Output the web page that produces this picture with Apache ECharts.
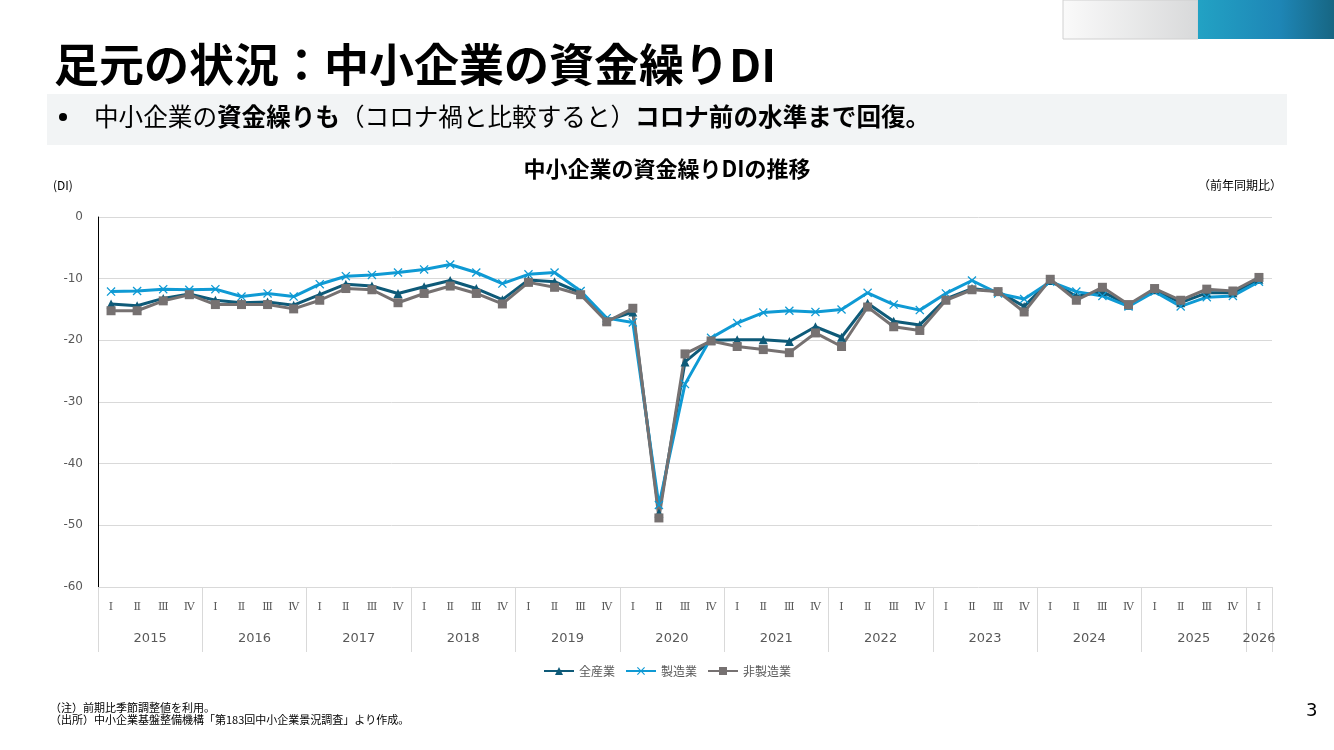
<!DOCTYPE html>
<html>
<head>
<meta charset="utf-8">
<script src="https://cdn.jsdelivr.net/npm/echarts@6/dist/echarts.min.js"></script>
<style>
  html, body { margin: 0; padding: 0; background: #fff; }
  #chart { width: 1334px; height: 750px; }
</style>
</head>
<body>
<div id="chart"></div>
<script>
// 年・四半期
var years = ['2015', '2016', '2017', '2018', '2019', '2020', '2021', '2022', '2023', '2024', '2025', '2026'];
var quarters = ['Ⅰ', 'Ⅱ', 'Ⅲ', 'Ⅳ'];

// 全産業
var zenSangyo = [
  -14.1, -14.4, -13.2, -12.5,
  -13.5, -13.9, -13.8, -14.3,
  -12.6, -10.9, -11.2, -12.4,
  -11.3, -10.3, -11.6, -13.4,
  -10.2, -10.5, -12.3, -16.8,
  -15.4, -48.0, -23.5, -20.0,
  -19.9, -19.9, -20.2, -17.8,
  -19.5, -14.0, -16.9, -17.5,
  -13.3, -11.6, -12.1, -14.5,
  -10.3, -12.9, -12.1, -14.3,
  -11.8, -13.9, -12.3, -12.3,
  -10.1
];
// 製造業
var seizo = [
  -12.1, -12.0, -11.7, -11.8,
  -11.7, -12.9, -12.4, -12.9,
  -10.9, -9.6, -9.4, -9.0,
  -8.5, -7.7, -9.0, -10.8,
  -9.3, -9.0, -12.0, -16.4,
  -17.1, -46.7, -27.1, -19.6,
  -17.2, -15.5, -15.2, -15.4,
  -15.0, -12.3, -14.2, -15.1,
  -12.4, -10.3, -12.4, -13.3,
  -10.5, -12.1, -12.8, -14.5,
  -12.1, -14.5, -13.0, -12.8,
  -10.5
];
// 非製造業
var hiSeizo = [
  -15.2, -15.2, -13.6, -12.6,
  -14.2, -14.2, -14.2, -14.9,
  -13.5, -11.6, -11.8, -13.9,
  -12.4, -11.2, -12.4, -14.1,
  -10.6, -11.4, -12.6, -17.0,
  -14.8, -48.8, -22.2, -20.1,
  -21.0, -21.5, -22.0, -18.8,
  -21.0, -14.6, -17.8, -18.4,
  -13.5, -11.8, -12.1, -15.4,
  -10.1, -13.5, -11.4, -14.2,
  -11.6, -13.5, -11.7, -12.0,
  -9.8
];

// 横軸カテゴリ (2026年はⅠ期のみ)
var cats = [];
var catYear = [];
years.forEach(function (y) {
  var n = (y === '2026') ? 1 : 4;
  for (var q = 0; q < n; q++) {
    cats.push(quarters[q]);
    catYear.push(y);
  }
});

var myChart = echarts.init(document.getElementById('chart'));

var crossPath = 'path://M0,1 L1,0 L5,4 L9,0 L10,1 L6,5 L10,9 L9,10 L5,6 L1,10 L0,9 L4,5 Z';
var jp = "'Noto Sans CJK JP', sans-serif";
var num = "'DejaVu Sans', 'Noto Sans CJK JP', sans-serif";

var option = {
  animation: false,
  textStyle: { fontFamily: jp },
  title: {
    text: '中小企業の資金繰りDIの推移',
    left: 'center',
    top: 153,
    textStyle: { fontSize: 22, fontWeight: 'bold', color: '#000', fontFamily: jp }
  },
  legend: {
    top: 660,
    left: 'center',
    itemWidth: 30,
    itemHeight: 10,
    itemGap: 10,
    textStyle: { fontSize: 12, color: '#595959', fontFamily: jp },
    data: ['全産業', '製造業', '非製造業']
  },
  grid: { left: 98, right: 62, top: 217, bottom: 163, containLabel: false },
  xAxis: [
    {
      type: 'category',
      data: cats,
      boundaryGap: true,
      axisLine: { show: false, onZero: false },
      splitLine: { show: false },
      axisTick: {
        show: true,
        length: 65,
        interval: function (index) { return index % 4 === 0; },
        lineStyle: { color: '#d9d9d9' }
      },
      axisLabel: {
        interval: 0,
        margin: 15,
        fontSize: 11,
        color: '#595959',
        fontFamily: "'DejaVu Serif', serif"
      }
    },
    {
      type: 'category',
      position: 'bottom',
      offset: 33,
      data: cats,
      boundaryGap: true,
      axisLine: { show: false, onZero: false },
      splitLine: { show: false },
      axisTick: { show: false },
      axisLabel: {
        interval: 0,
        margin: 12,
        formatter: function (v, i) {
          if (catYear[i] === '2026') return '{c|' + catYear[i] + '}';
          if (i % 4 === 1) return '{p|' + catYear[i] + '}';
          return '';
        },
        rich: {
          p: { fontSize: 13, color: '#595959', fontFamily: num, padding: [0, 0, 0, 26] },
          c: { fontSize: 13, color: '#595959', fontFamily: num }
        }
      }
    }
  ],
  yAxis: {
    type: 'value',
    min: -60,
    max: 0,
    interval: 10,
    axisLine: { show: true, onZero: false, lineStyle: { color: '#000', width: 1 } },
    axisTick: { show: false },
    axisLabel: { fontSize: 12, color: '#595959', margin: 15, fontFamily: num },
    splitLine: { lineStyle: { color: '#d9d9d9' } }
  },
  series: [
    {
      name: '全産業',
      type: 'line',
      data: zenSangyo,
      symbol: 'triangle',
      symbolSize: 9,
      lineStyle: { color: '#0e5a78', width: 3 },
      itemStyle: { color: '#0e5a78' }
    },
    {
      name: '製造業',
      type: 'line',
      data: seizo,
      symbol: crossPath,
      symbolSize: 9,
      lineStyle: { color: '#0f9ad4', width: 3 },
      itemStyle: { color: '#0f9ad4' }
    },
    {
      name: '非製造業',
      type: 'line',
      data: hiSeizo,
      symbol: 'rect',
      symbolSize: 9,
      lineStyle: { color: '#767171', width: 3 },
      itemStyle: { color: '#767171' }
    }
  ],
  graphic: [
    {
      type: 'rect',
      shape: { x: 1063, y: 0, width: 135, height: 39 },
      style: {
        fill: new echarts.graphic.LinearGradient(0, 0, 1, 0, [
          { offset: 0, color: '#fafafa' },
          { offset: 1, color: '#d8d9da' }
        ]),
        stroke: '#d0d0d0',
        lineWidth: 1
      }
    },
    {
      type: 'rect',
      shape: { x: 1198, y: 0, width: 136, height: 39 },
      style: {
        fill: new echarts.graphic.LinearGradient(0, 0, 1, 0, [
          { offset: 0, color: '#22a2c4' },
          { offset: 0.6, color: '#1e86b6' },
          { offset: 1, color: '#176683' }
        ])
      }
    },
    {
      type: 'text',
      left: 54,
      top: 42,
      style: {
        text: '足元の状況：中小企業の資金繰りDI',
        font: 'bold 45px ' + jp,
        fill: '#000'
      }
    },
    {
      type: 'rect',
      shape: { x: 47, y: 94, width: 1240, height: 51 },
      style: { fill: '#f2f4f5' }
    },
    {
      type: 'circle',
      shape: { cx: 63, cy: 117, r: 4 },
      style: { fill: '#000' }
    },
    {
      type: 'text',
      left: 94,
      top: 104,
      style: {
        rich: {
          n: { fontSize: 24.6, fontFamily: jp, fill: '#000' },
          b: { fontSize: 24.6, fontFamily: jp, fontWeight: 'bold', fill: '#000' }
        },
        text: '{n|中小企業の}{b|資金繰りも}{n|（コロナ禍と比較すると）}{b|コロナ前の水準まで回復。}'
      }
    },
    {
      type: 'text',
      left: 53,
      top: 179,
      style: { text: '(DI)', font: '12px ' + jp, fill: '#000' }
    },
    {
      type: 'text',
      right: 52,
      top: 179,
      style: { text: '（前年同期比）', font: '12px ' + jp, fill: '#000' }
    },
    {
      type: 'text',
      left: 50,
      top: 702,
      style: {
        text: '（注）前期比季節調整値を利用。\n（出所）中小企業基盤整備機構「第183回中小企業景況調査」より作成。',
        font: '11px ' + jp,
        lineHeight: 12,
        fill: '#000'
      }
    },
    {
      type: 'text',
      left: 1306,
      top: 702,
      style: { text: '3', font: '18px ' + num, fill: '#000' }
    }
  ]
};

myChart.setOption(option);
</script>
</body>
</html>
